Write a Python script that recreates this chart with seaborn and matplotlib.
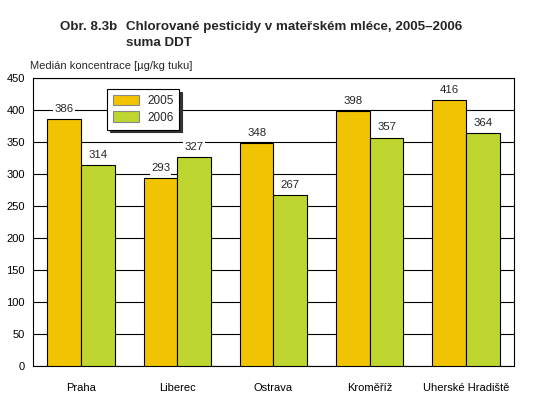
import matplotlib
matplotlib.use("Agg")
import matplotlib.pyplot as plt
import seaborn as sns
import pandas as pd

cities = ["Praha", "Liberec", "Ostrava", "Kroměříž", "Uherské Hradiště"]
v2005 = [386, 293, 348, 398, 416]
v2006 = [314, 327, 267, 357, 364]
years = ["2005", "2006"]
yticks = [0, 50, 100, 150, 200, 250, 300, 350, 400, 450]

df = pd.DataFrame({
    "city": cities * 2,
    "year": [years[0]] * len(cities) + [years[1]] * len(cities),
    "value": v2005 + v2006,
})

sns.set_theme(style="white")
plt.rcParams['font.family'] = ['Liberation Sans', 'DejaVu Sans']

fig = plt.figure(figsize=(5.39, 3.98), dpi=100)
ax = fig.add_axes([0.0612, 0.0804, 0.8924, 0.7236])

palette = {"2005": "#F2C300", "2006": "#BED62F"}
sns.barplot(data=df, x="city", y="value", hue="year", palette=palette,
            width=0.7, edgecolor="black", linewidth=0.8, saturation=1,
            ax=ax, zorder=3)

ax.set_ylim(0, 450)
ax.set_yticks(yticks)
ax.set_xlim(-0.5, len(cities) - 0.5)
ax.yaxis.grid(True, color="black", linewidth=0.8, zorder=0)
ax.set_axisbelow(True)
for s in ax.spines.values():
    s.set_color("black")
    s.set_linewidth(0.8)
ax.tick_params(axis="both", length=0, labelsize=8, colors="black", pad=6)
ax.tick_params(axis="x", pad=12)
ax.set_xlabel("")
ax.set_ylabel("")

for cont in ax.containers:
    for bar in cont:
        h = bar.get_height()
        ax.text(bar.get_x() + bar.get_width() / 2, h + 8, f"{int(round(h))}",
                ha="center", va="bottom", fontsize=8.2, zorder=5,
                bbox=dict(facecolor="white", edgecolor="none", pad=1.0))

leg = ax.legend(loc="upper left", bbox_to_anchor=(0.154, 0.962), borderaxespad=0,
                frameon=True, fancybox=False, shadow={"color": "#333333", "alpha": 1},
                edgecolor="black", fontsize=8.5, handlelength=2.2, handleheight=1.0,
                handletextpad=0.7, borderpad=0.5, labelspacing=0.35)
leg.get_frame().set_linewidth(0.8)
for p in leg.get_patches():
    p.set_edgecolor("#888888")

fig.text(0.111, 0.932, "Obr. 8.3b", fontsize=9.6, fontweight="bold", ha="left", va="center")
fig.text(0.234, 0.932, "Chlorované pesticidy v mateřském mléce, 2005–2006", fontsize=9.6,
         fontweight="bold", ha="left", va="center")
fig.text(0.234, 0.892, "suma DDT", fontsize=9.6, fontweight="bold", ha="left", va="center")
fig.text(0.056, 0.834, "Medián koncentrace [µg/kg tuku]", fontsize=8, ha="left", va="center")

fig.savefig("out.png", dpi=100, facecolor="white")
